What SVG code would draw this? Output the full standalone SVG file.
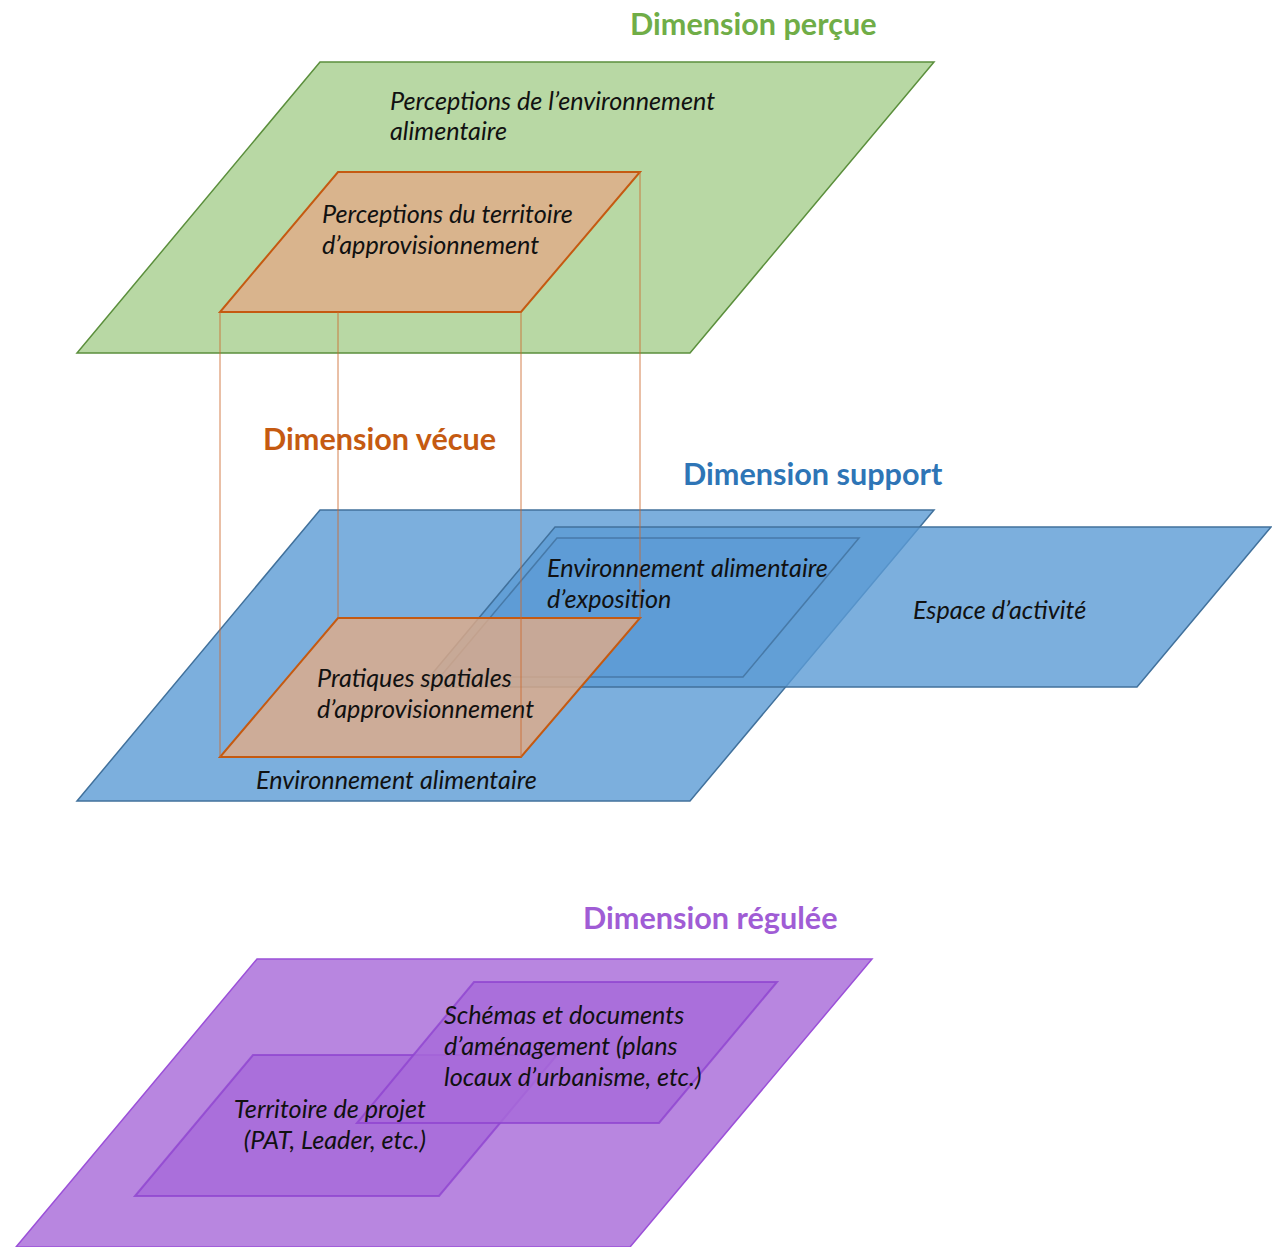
<svg xmlns="http://www.w3.org/2000/svg" width="1272" height="1247" viewBox="0 0 1272 1247">
<style>
.title{font-family:Lato,"Open Sans","Liberation Sans",sans-serif;font-weight:bold;font-size:30.6px}
.lbl{font-family:Lato,"Open Sans","Liberation Sans",sans-serif;font-style:italic;font-size:25.2px;fill:#111}
.green{fill:#b8d8a4;stroke:#5b8f3c;stroke-width:1.5}
.orange{fill:#e1ab87;fill-opacity:0.8;stroke:#c55a11;stroke-width:2}
.blue{fill:#5b9bd5;fill-opacity:0.8;stroke:#41719c;stroke-width:1.5}
.blue2{fill:#5b9bd5;fill-opacity:0.6;stroke:#41719c;stroke-opacity:0.8;stroke-width:1.5}
.purple{fill:#b886e0;stroke:#9b50d8;stroke-width:1.5}
.purple2{fill:#a76ad9;fill-opacity:0.82;stroke:#8f44d0;stroke-opacity:0.8;stroke-width:2}
.conn{stroke:#cc6a30;stroke-opacity:0.85;stroke-width:1;fill:none}
</style>
<rect width="1272" height="1247" fill="#ffffff"/>
<g id="dimension-percue">
<polygon class="green" points="320,62 934,62 690,353 77,353"/>
<text class="title" x="630" y="35" fill="#70ad47">Dimension perçue</text>
<text class="lbl" x="390" y="110">Perceptions de l’environnement</text>
<text class="lbl" x="390" y="140">alimentaire</text>
</g>
<g id="perceptions-territoire">
<polygon class="orange" points="338,172 640,172 521,312 220,312"/>
<text class="lbl" x="322" y="223">Perceptions du territoire</text>
<text class="lbl" x="322" y="254">d’approvisionnement</text>
</g>
<g id="titre-vecue">
<text class="title" x="263" y="450" fill="#c55a11">Dimension vécue</text>
</g>
<g id="dimension-support">
<text class="title" x="683" y="485" fill="#2e75b6">Dimension support</text>
<polygon class="blue" points="320,510 934,510 690,801 77,801"/>
<text class="lbl" x="256" y="789">Environnement alimentaire</text>
</g>
<g id="espace-activite">
<polygon class="blue" points="555,527 1271,527 1137,687 421,687"/>
<text class="lbl" x="913" y="619">Espace d’activité</text>
</g>
<g id="environnement-exposition">
<polygon class="blue2" points="557,538 859,538 743,677 440,677"/>
<text class="lbl" x="547" y="577">Environnement alimentaire</text>
<text class="lbl" x="547" y="608">d’exposition</text>
</g>
<g id="pratiques-spatiales">
<polygon class="orange" points="338,618 640,618 521,757 220,757"/>
<text class="lbl" x="317" y="687">Pratiques spatiales</text>
<text class="lbl" x="317" y="718">d’approvisionnement</text>
</g>
<g id="connectors">
<line class="conn" x1="220" y1="312" x2="220" y2="757"/>
<line class="conn" x1="338" y1="312" x2="338" y2="618"/>
<line class="conn" x1="521" y1="312" x2="521" y2="757"/>
<line class="conn" x1="640" y1="172" x2="640" y2="618"/>
</g>
<g id="dimension-regulee">
<text class="title" x="583" y="929" fill="#a05cd5">Dimension régulée</text>
<polygon class="purple" points="257,959 872,959 630,1247 16,1247"/>
</g>
<g id="territoire-projet">
<polygon class="purple2" points="253,1055 557,1055 439,1196 135,1196"/>
</g>
<g id="schemas-documents">
<polygon class="purple2" points="474,982 777,982 659,1123 357,1123"/>
</g>
<g id="territoire-projet-label">
<text class="lbl" x="426" y="1118" text-anchor="end">Territoire de projet</text>
<text class="lbl" x="426" y="1149" text-anchor="end">(PAT, Leader, etc.)</text>
</g>
<g id="schemas-documents-label">
<text class="lbl" x="444" y="1024">Schémas et documents</text>
<text class="lbl" x="444" y="1055">d’aménagement (plans</text>
<text class="lbl" x="444" y="1086">locaux d’urbanisme, etc.)</text>
</g>
</svg>
